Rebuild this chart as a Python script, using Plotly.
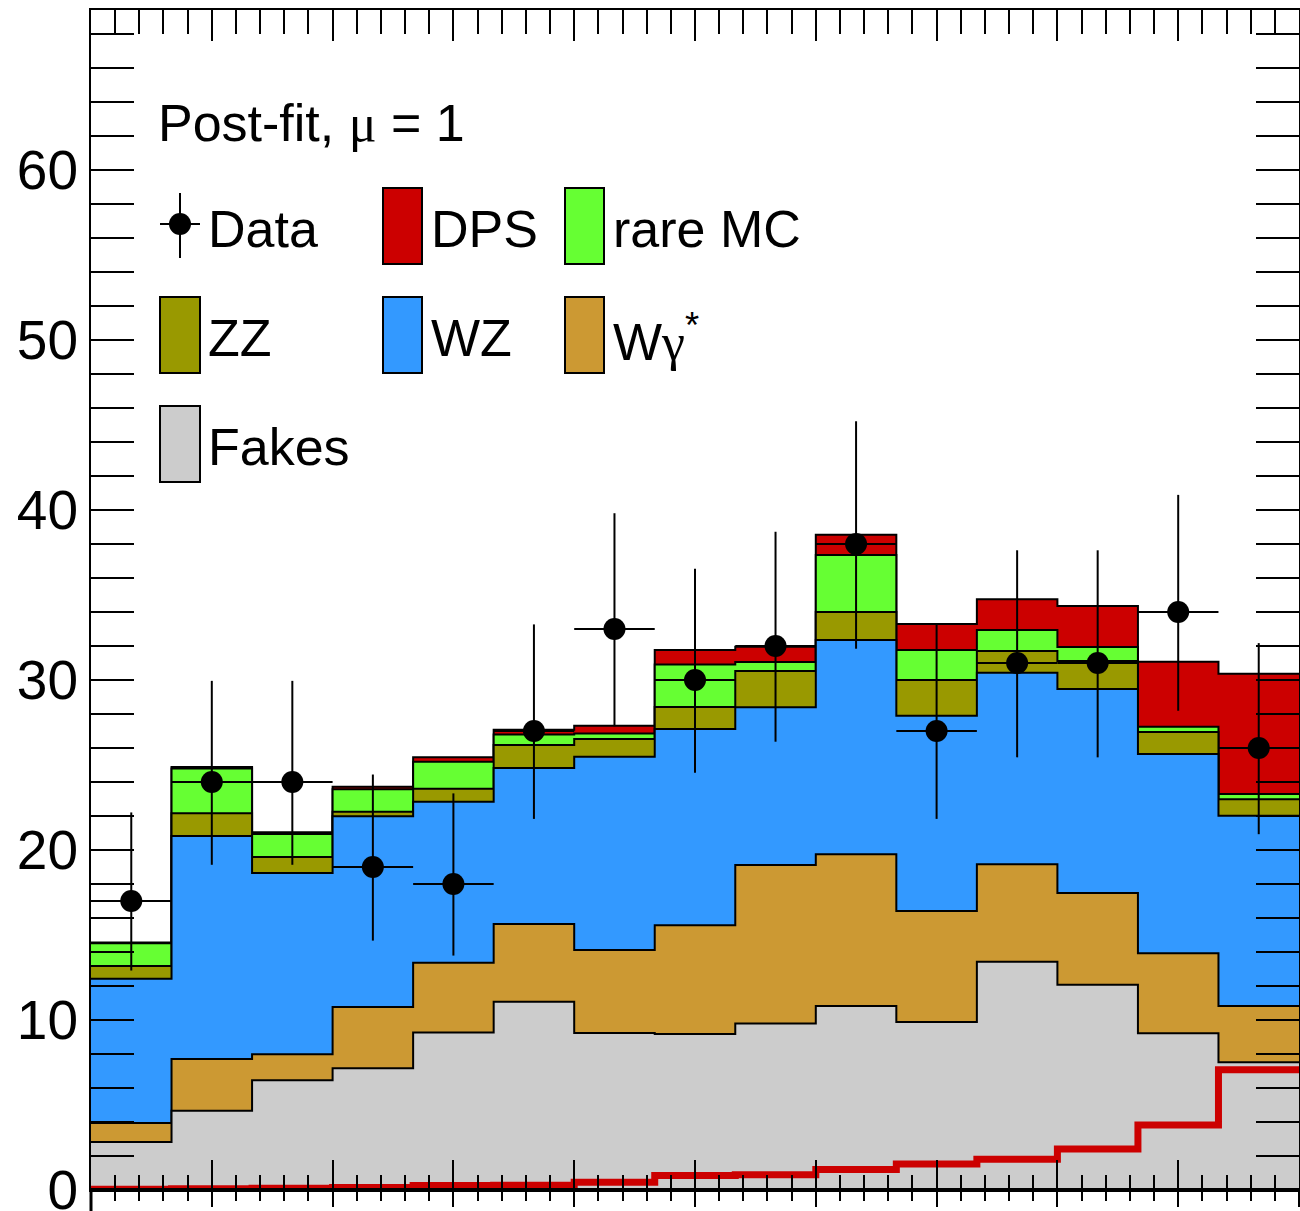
import numpy as np
import plotly.graph_objects as go

# ---------------- data ----------------
bin_edges = np.linspace(-1.0, 1.0, 16)

data_counts = [17, 24, 24, 19, 18, 27, 33, 30, 32, 38, 27, 31, 31, 34, 26]
data_err_up = [5.21, 5.95, 5.95, 5.44, 5.33, 6.27, 6.81, 6.54, 6.72, 7.22, 6.27, 6.63, 6.63, 6.89, 6.17]
data_err_dn = [4.09, 4.87, 4.87, 4.33, 4.21, 5.17, 5.72, 5.45, 5.63, 6.16, 5.17, 5.55, 5.55, 5.81, 5.07]

fakes  = [2.82, 4.66, 6.45, 7.16, 9.27, 11.08, 9.24, 9.18, 9.80, 10.82, 9.88, 13.43, 12.08, 9.22, 7.51]
wgamma = [1.12, 3.05, 1.53, 3.60, 4.10, 4.57, 4.88, 6.39, 9.32, 8.93, 6.53, 5.73, 5.39, 4.70, 3.31]
wz     = [8.49, 13.11, 10.67, 11.22, 9.47, 9.17, 11.37, 11.55, 9.27, 12.60, 11.49, 11.27, 12.00, 11.73, 11.20]
zz     = [0.75, 1.34, 0.94, 0.27, 0.76, 1.36, 1.04, 1.29, 2.14, 1.65, 2.10, 1.27, 1.65, 1.29, 0.96]
rare   = [1.33, 2.64, 1.35, 1.32, 1.59, 0.62, 0.33, 2.50, 0.53, 3.35, 1.76, 1.24, 0.82, 0.31, 0.31]
dps    = [0.05, 0.08, 0.10, 0.15, 0.26, 0.28, 0.45, 0.85, 0.90, 1.20, 1.53, 1.81, 2.41, 3.83, 7.08]

SERIF = "Liberation Serif, DejaVu Serif, serif"
names  = ["Fakes",
          "W<span style=\"font-family:%s\">γ</span><sup>*</sup>" % SERIF,
          "WZ", "ZZ", "rare MC", "DPS"]
colors = ["#CCCCCC", "#CC9933", "#3399FF", "#999900", "#66FF33", "#CC0000"]

# ---------------- figure geometry ----------------
W, H = 1300, 1211
ML, MR, MT, MB = 91, 1, 10, 21
PW, PH = W - ML - MR, H - MT - MB
Y_MAX = PH / 17.0
FONT = "Liberation Sans, Arial, Helvetica, sans-serif"


def px(x):
    return (x - ML) / PW


def py(y):
    return (MT + PH - y) / PH


centers = 0.5 * (bin_edges[:-1] + bin_edges[1:])
half_w = 0.5 * (bin_edges[1:] - bin_edges[:-1])

stack = np.cumsum(np.vstack([fakes, wgamma, wz, zz, rare, dps]), axis=0)

fig = go.Figure()

# stacked histograms, drawn from the top cumulative downwards (ROOT THStack style)
for i in reversed(range(len(names))):
    yv = list(stack[i]) + [stack[i][-1]]
    fig.add_trace(go.Scatter(
        x=bin_edges, y=yv, mode="lines",
        line=dict(shape="hv", color="black", width=2),
        fill="tozeroy", fillcolor=colors[i],
        showlegend=False, hoverinfo="skip"))

# DPS alone, as a thick red line
fig.add_trace(go.Scatter(
    x=bin_edges, y=list(dps) + [dps[-1]], mode="lines",
    line=dict(shape="hv", color="#CC0000", width=7),
    showlegend=False, hoverinfo="skip"))

# data points
fig.add_trace(go.Scatter(
    x=centers, y=data_counts, mode="markers",
    marker=dict(size=22, color="black"),
    error_y=dict(type="data", symmetric=False, array=data_err_up,
                 arrayminus=data_err_dn, thickness=2, width=0, color="black"),
    error_x=dict(type="data", array=list(half_w), thickness=2, width=0, color="black"),
    showlegend=False, hoverinfo="skip"))

# helper traces for the extra tick axes (lower pad / top frame)
fig.add_trace(go.Scatter(x=[-1, 1], y=[None, None], xaxis="x2", mode="lines",
                         showlegend=False, hoverinfo="skip"))
fig.add_trace(go.Scatter(x=[-1, 1], y=[None, None], xaxis="x3", mode="lines",
                         showlegend=False, hoverinfo="skip"))

# ---------------- legend (drawn manually) ----------------
shapes = []
annotations = []

annotations.append(dict(text="Post-fit, <span style=\"font-family:%s\">μ</span> = 1" % SERIF,
                        x=px(156), y=py(123), xref="paper", yref="paper",
                        xanchor="left", yanchor="middle", showarrow=False,
                        font=dict(family=FONT, size=52, color="black")))

rows = {1: 226, 2: 335, 3: 444}
cols = {1: (160, 200, 206), 2: (383, 422, 429), 3: (565, 604, 611)}
entries = [
    (1, 2, 5), (1, 3, 4),
    (2, 1, 3), (2, 2, 2), (2, 3, 1),
    (3, 1, 0),
]
for r, c, idx in entries:
    x0, x1, xt = cols[c]
    yc = rows[r]
    shapes.append(dict(type="rect", xref="paper", yref="paper",
                       x0=px(x0), x1=px(x1), y0=py(yc + 38), y1=py(yc - 38),
                       fillcolor=colors[idx], line=dict(color="black", width=2)))
    annotations.append(dict(text=names[idx], x=px(xt), y=py(yc + 3), xref="paper", yref="paper",
                            xanchor="left", yanchor="middle", showarrow=False,
                            font=dict(family=FONT, size=52, color="black")))

# Data legend entry
x0, x1, xt = cols[1]
yc = rows[1]
xm = 0.5 * (x0 + x1)
shapes.append(dict(type="line", xref="paper", yref="paper", x0=px(xm), x1=px(xm),
                   y0=py(yc - 33), y1=py(yc + 32), line=dict(color="black", width=2)))
shapes.append(dict(type="line", xref="paper", yref="paper", x0=px(x0), x1=px(x1),
                   y0=py(yc - 2), y1=py(yc - 2), line=dict(color="black", width=2)))
shapes.append(dict(type="circle", xref="paper", yref="paper",
                   xsizemode="pixel", ysizemode="pixel",
                   xanchor=px(xm), yanchor=py(yc - 2), x0=-11, x1=11, y0=-11, y1=11,
                   fillcolor="black", line=dict(color="black", width=0)))
annotations.append(dict(text="Data", x=px(xt), y=py(yc + 3), xref="paper", yref="paper",
                        xanchor="left", yanchor="middle", showarrow=False,
                        font=dict(family=FONT, size=52, color="black")))

# left frame continuing into the lower pad
shapes.append(dict(type="line", xref="paper", yref="paper", x0=0, x1=0,
                   y0=0, y1=-MB / PH, line=dict(color="black", width=3)))

common_x = dict(range=[-1, 1], tick0=-1, dtick=0.2, showticklabels=False,
                showgrid=False, zeroline=False, automargin=False,
                linecolor="black", tickcolor="black", tickwidth=2)

fig.update_layout(
    width=W, height=H, autosize=False,
    margin=dict(l=ML, r=MR, t=MT, b=MB, pad=0, autoexpand=False),
    paper_bgcolor="white", plot_bgcolor="white",
    showlegend=False,
    shapes=shapes, annotations=annotations,
    xaxis=dict(**common_x, showline=True, linewidth=2, mirror=False,
               ticks="inside", ticklen=30,
               minor=dict(tick0=-1, dtick=0.04, ticks="inside", ticklen=15,
                          tickwidth=2, tickcolor="black", showgrid=False)),
    xaxis2=dict(**common_x, overlaying="x", anchor="free", position=0, side="bottom",
                showline=True, linewidth=4,
                ticks="outside", ticklen=15,
                minor=dict(tick0=-1, dtick=0.04, ticks="outside", ticklen=9,
                           tickwidth=2, tickcolor="black", showgrid=False)),
    xaxis3=dict(**common_x, overlaying="x", anchor="y", side="top",
                showline=True, linewidth=2,
                ticks="inside", ticklen=31,
                minor=dict(tick0=-1, dtick=0.04, ticks="inside", ticklen=24,
                           tickwidth=2, tickcolor="black", showgrid=False)),
    yaxis=dict(range=[0, Y_MAX], showline=True, linecolor="black", linewidth=2, automargin=False,
               mirror="allticks", ticks="inside", ticklen=43, tickwidth=2, tickcolor="black",
               tick0=0, dtick=10, showgrid=False, zeroline=False,
               tickfont=dict(family=FONT, size=55, color="black"),
               ticklabelstandoff=0, ticklabeloverflow="allow",
               minor=dict(tick0=0, dtick=2, ticks="inside", ticklen=22,
                          tickwidth=2, tickcolor="black", showgrid=False)),
)

fig.write_html("out.html",
               config={"displayModeBar": False},
               post_script="document.body.style.margin='0px';"
                           "document.body.style.overflow='hidden';")
